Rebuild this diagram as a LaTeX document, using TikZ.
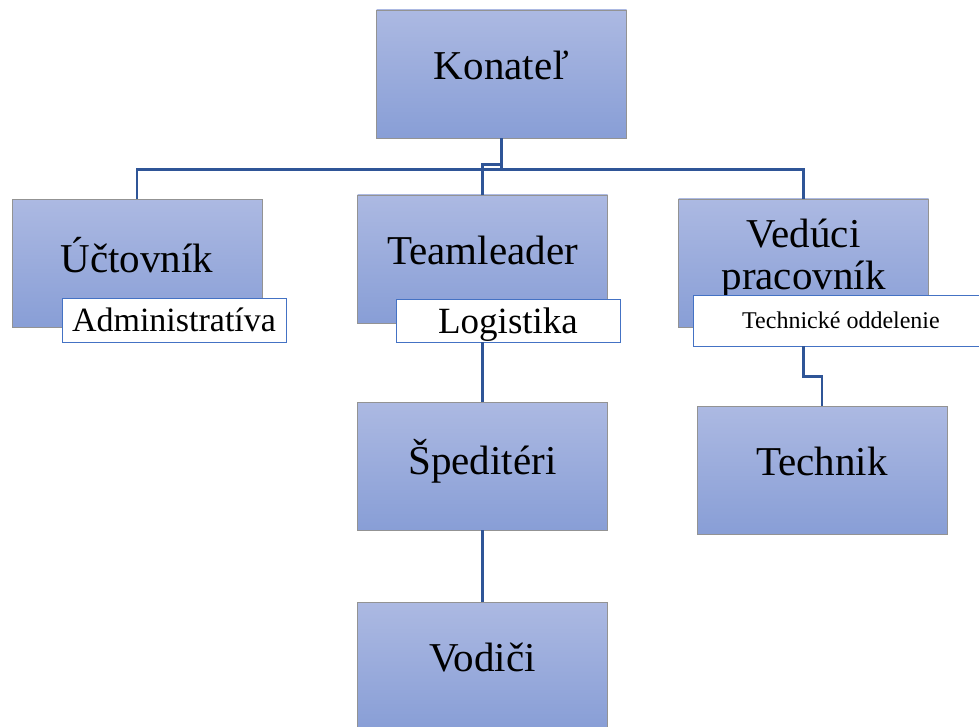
\documentclass[tikz,border=0pt]{standalone}
\usepackage{fontspec}
\setmainfont{Liberation Serif}
\newfontfamily\orgfont{Liberation Serif}
\definecolor{boxtop}{RGB}{172,185,226}
\definecolor{boxbot}{RGB}{136,158,214}
\definecolor{lblue}{RGB}{47,85,151}
\definecolor{tblue}{RGB}{68,114,196}
\tikzset{box/.style = {draw=gray!85, line width=0.9pt, top color=boxtop, bottom color=boxbot,
                       minimum width=250pt, minimum height=128pt, inner sep=0pt,
                       align=center, text depth=18pt, font=\orgfont\fontsize{41}{42}\selectfont},
         tag/.style = {draw=tblue, line width=0.9pt, fill=white, minimum width=224pt,
                       minimum height=44pt, inner sep=0pt, text depth=0pt},
         link/.style = {draw=lblue, line width=2.6pt}}

\begin{document}
\begin{tikzpicture}[x=1pt, y=-1pt]
      \useasboundingbox (0, 0) rectangle (979, 727);

      \node [box] (konatel) at (501.5, 74) {Konateľ};
      \node [box] (uctovnik) at (137, 263.5) {Účtovník};
      \node [box] (teamleader) at (482.5, 259) {Teamleader};
      \node [box] (veduci) at (803.5, 263) {Vedúci\\pracovník};
      \node [box] (speditery) at (482.5, 466) {Špeditéri};
      \node [box] (technik) at (822, 470.5) {Technik};
      \node [box] (vodici) at (482.5, 666) {Vodiči};

      \node [tag, font=\orgfont\fontsize{34}{36}\selectfont] (admin) at (174, 320) {Administratíva};
      \node [tag, minimum height=43pt, font=\orgfont\fontsize{37}{38}\selectfont] (logistika) at (508, 320.5) {Logistika};
      \node [tag, minimum width=296pt, minimum height=51pt, font=\orgfont\fontsize{24}{26}\selectfont] (technicke) at (841, 320.5) {Technické oddelenie};

      \draw [link] (konatel.south) -- ++(0, 31) coordinate (bus);
      \draw [link] (uctovnik.north) |- (bus) -| (veduci.north);
      \draw [link] (teamleader.north) -- ++(0, -30) -| (konatel.south);
      \draw [link] (speditery.north |- logistika.south) -- (speditery.north);
      \draw [link] (speditery.south) -- (vodici.north);
      \draw [link] (veduci.south |- technicke.south) -- ++(0, 30) -| (technik.north);
    \end{tikzpicture}
\end{document}
